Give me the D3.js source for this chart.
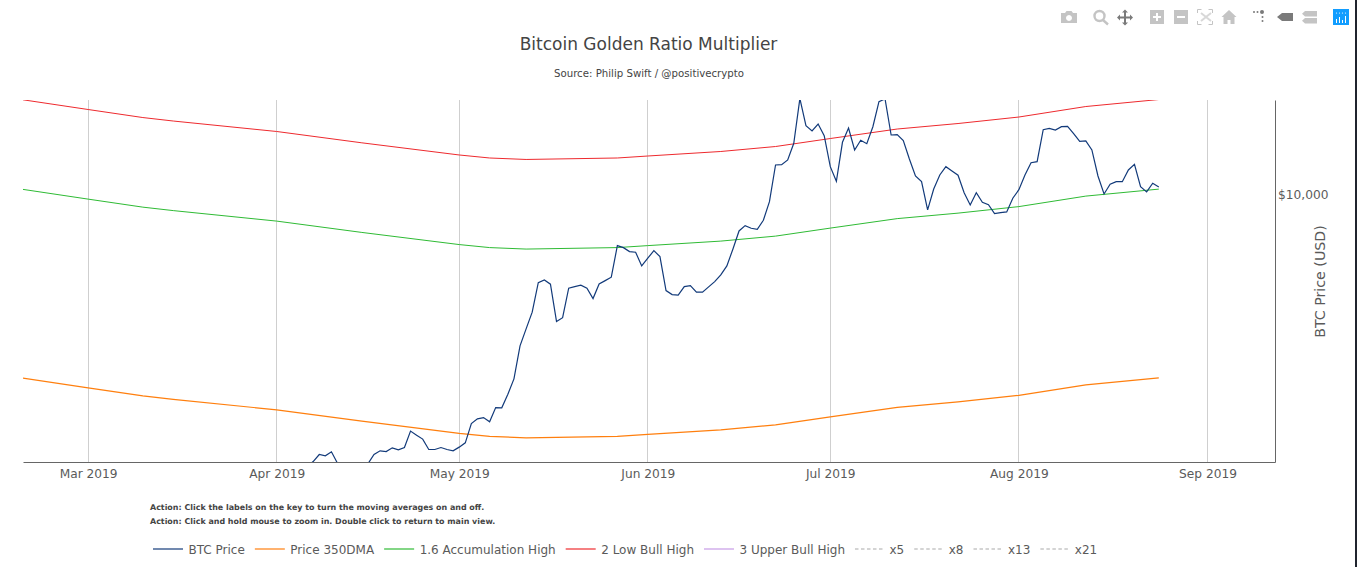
<!DOCTYPE html>
<html>
<head>
<meta charset="utf-8">
<script src="https://cdn.jsdelivr.net/npm/d3@7"></script>
<style>
html,body{margin:0;padding:0;background:#fff;overflow:hidden}
svg{display:block}
text{font-family:"DejaVu Sans",Verdana,sans-serif}
</style>
</head>
<body>
<svg id="chart" width="1357" height="567"></svg>
<script>
// ---- data ----
const titleText = "Bitcoin Golden Ratio Multiplier";
const subtitleText = "Source: Philip Swift / @positivecrypto";
const noteLines = [
  "Action: Click the labels on the key to turn the moving averages on and off.",
  "Action: Click and hold mouse to zoom in. Double click to return to main view."
];
const yAxisTitle = "BTC Price (USD)";
const xTickDates = ["2019-03-01","2019-04-01","2019-05-01","2019-06-01","2019-07-01","2019-08-01","2019-09-01"];
const yTickValues = [10000];

const btcStart = "2019-04-06"; // one value per day from this date; values below the axis are estimates
const btcPrice = [5060,5123,5213,5196,5249,5100,5085,5075,5090,5040,5095,5213,5261,5252,5301,5275,5305,5526,5471,5417,5279,5279,5305,5279,5261,
  5310,5367,5631,5698,5716,5655,5860,5856,6059,6294,6833,7128,7431,7999,8053,7968,7259,7331,7888,7920,7947,7888,7687,7973,8039,8107,8771,8727,8641,8628,8338,
  8500,8662,8534,7841,7764,7752,7920,7939,7810,7810,7914,8019,8154,8338,8699,9097,9218,9159,9136,9343,9786,10722,10730,10856,11317,12650,11824,11668,11874,11533,
  10677,10295,11345,11756,11130,11402,11305,11794,12551,12640,11553,11562,11396,10883,10432,10285,9586,10100,10458,10677,10563,10451,10007,9706,10007,9771,9713,9498,9522,9538,9869,
  10082,10458,10783,10810,11707,11747,11698,11794,11806,11590,11373,11382,11130,10432,9975,10219,10285,10285,10589,10740,10158,10025,10244,10150];

const maDates = ["2019-02-18","2019-03-01","2019-03-10","2019-03-15","2019-04-01","2019-04-15","2019-05-01","2019-05-06","2019-05-12","2019-05-27","2019-06-01","2019-06-13","2019-06-22","2019-07-01","2019-07-12","2019-07-22","2019-08-01","2019-08-12","2019-08-24"];
const price350DMA = [6310,6155,6033,5981,5827,5665,5496,5455,5435,5455,5482,5544,5613,5726,5863,5944,6041,6201,6310];
const accumulationHigh = [10096,9848,9653,9570,9323,9064,8794,8728,8696,8728,8771,8870,8981,9162,9381,9510,9666,9922,10096];
const lowBullHigh = [12620,12310,12066,11962,11654,11330,10992,10910,10870,10910,10964,11088,11226,11452,11726,11888,12082,12402,12620];

const legendNames = ["BTC Price","Price 350DMA","1.6 Accumulation High","2 Low Bull High","3 Upper Bull High","x5","x8","x13","x21"];

// ---- styles and layout ----
const legendColors = ["#123a7a","#ff7f0e","#2fbb35","#ee2a2e","#c79be6","#aaa","#aaa","#aaa","#aaa"];
const legendDashed = [false,false,false,false,false,true,true,true,true];
const M = {left:23,right:1275,top:100,bottom:462};
const parse = d3.utcParse("%Y-%m-%d");
const svg = d3.select("#chart");

const x = d3.scaleUtc()
  .domain([parse("2019-02-18").getTime()+0.3*864e5, parse("2019-09-12").getTime()+0.1*864e5])
  .range([M.left,M.right]);
const y = d3.scaleLog().domain([5117,12605]).range([M.bottom,M.top]);

svg.append("defs").append("clipPath").attr("id","plot").append("rect")
  .attr("x",M.left).attr("y",M.top).attr("width",M.right-M.left).attr("height",M.bottom-M.top);

// grid
const xTicks = xTickDates.map(parse);
svg.append("g").attr("shape-rendering","crispEdges").selectAll("line").data(xTicks).join("line")
  .attr("x1",d=>x(d)).attr("x2",d=>x(d)).attr("y1",M.top).attr("y2",M.bottom)
  .attr("stroke","#cfcfcf").attr("stroke-width",1);

// lines
const line = d3.line().x(d=>x(d[0])).y(d=>y(d[1]));
const btcT0 = parse(btcStart).getTime();
const btcPts = btcPrice.map((v,i)=>[new Date(btcT0+i*864e5),v]);
const maPts = arr => arr.map((v,i)=>[parse(maDates[i]),v]);
const plot = svg.append("g").attr("clip-path","url(#plot)").attr("fill","none");
plot.append("path").attr("d",line(maPts(price350DMA))).attr("stroke",legendColors[1]).attr("stroke-width",1.2);
plot.append("path").attr("d",line(maPts(accumulationHigh))).attr("stroke",legendColors[2]).attr("stroke-width",1);
plot.append("path").attr("d",line(maPts(lowBullHigh))).attr("stroke",legendColors[3]).attr("stroke-width",1);
plot.append("path").attr("d",line(btcPts)).attr("stroke",legendColors[0]).attr("stroke-width",1.2);

// axes
const gx = svg.append("g").attr("transform",`translate(0,${M.bottom})`)
  .call(d3.axisBottom(x).tickValues(xTicks).tickSize(0).tickPadding(5).tickFormat(d3.utcFormat("%b %Y")));
gx.select(".domain").attr("stroke","#666").attr("stroke-width",1);
gx.selectAll("text").attr("font-size",12.2).attr("fill","#5a5a5a").attr("font-family",'"DejaVu Sans"').attr("dy","0.87em");
const gy = svg.append("g").attr("transform",`translate(${M.right},0)`)
  .call(d3.axisRight(y).tickValues(yTickValues).tickSize(0).tickPadding(3).tickFormat(d3.format("$,")));
gy.select(".domain").attr("stroke","#666").attr("stroke-width",1);
gy.selectAll("text").attr("font-size",12.2).attr("fill","#5a5a5a").attr("font-family",'"DejaVu Sans"').attr("dy","0.42em");

svg.append("text").attr("transform","translate(1325,281.5) rotate(-90)").attr("text-anchor","middle")
  .attr("font-size",14.2).attr("fill","#5a5a5a").text(yAxisTitle);

// titles
svg.append("text").attr("x",648.5).attr("y",50).attr("text-anchor","middle").attr("font-size",17).attr("fill","#444").text(titleText);
svg.append("text").attr("x",649).attr("y",77).attr("text-anchor","middle").attr("font-size",10.2).attr("fill","#444").text(subtitleText);

// notes
svg.append("g").selectAll("text").data(noteLines).join("text")
  .attr("x",150).attr("y",(d,i)=>510+i*14).attr("font-size",7.95).attr("font-weight","bold").attr("fill","#444").text(d=>d);

// legend
const lg = svg.append("g");
let lx = 153;
legendNames.forEach((name,i)=>{
  const w = legendDashed[i]?29:30;
  lg.append("line").attr("x1",lx).attr("x2",lx+w).attr("y1",549).attr("y2",549)
    .attr("stroke",legendColors[i]).attr("stroke-width",1.2).attr("stroke-dasharray",legendDashed[i]?"3.5 2.5":null);
  const t = lg.append("text").attr("x",lx+w+5.5).attr("y",554).attr("font-size",12).attr("fill","#5a5a5a").text(name);
  lx += w+5.5+t.node().getComputedTextLength()+10;
});

// toolbar
const mb = svg.append("g");
const L="#c4c4c4", D="#7a7a7a";
// camera
mb.append("path").attr("fill",L).attr("fill-rule","evenodd").attr("d","M1061 13h4l1.5-2h5l1.5 2h4v10h-16z M1069 15a3 3 0 1 0 .01 0z");
// zoom
mb.append("circle").attr("cx",1099.5).attr("cy",16).attr("r",5).attr("fill","none").attr("stroke",L).attr("stroke-width",2.4);
mb.append("line").attr("x1",1103).attr("y1",20).attr("x2",1108).attr("y2",24.5).attr("stroke",L).attr("stroke-width",2.4);
// pan
mb.append("path").attr("fill",D).attr("d","M1125 9.5l3 3h-2v4h4v-2l3 3-3 3v-2h-4v4h2l-3 3-3-3h2v-4h-4v2l-3-3 3-3v2h4v-4h-2z");
// plus / minus
mb.append("path").attr("fill",L).attr("fill-rule","evenodd").attr("d","M1150 10h14v14h-14z M1156 13v3h-3v2h3v3h2v-3h3v-2h-3v-3z");
mb.append("path").attr("fill",L).attr("fill-rule","evenodd").attr("d","M1174 10h14v14h-14z M1177 16v2h8v-2z");
// autoscale
mb.append("path").attr("fill","none").attr("stroke",L).attr("d","M1197.5 13v-3.5h4 M1208.5 9.5h4v3.5 M1212.5 21v3.5h-4 M1201.5 24.5h-4v-3.5");
mb.append("path").attr("fill","none").attr("stroke","#d8d8d8").attr("stroke-width",2).attr("d","M1201 13l10 8 M1211 13l-10 8");
// home
mb.append("path").attr("fill",L).attr("d","M1229 10l7.5 7h-2v7h-4v-4h-3v4h-4v-7h-2z");
// spikes
mb.append("g").attr("fill",D).selectAll("circle").data([[1254,12,1],[1257.5,12,1],[1262,12,2],[1262.5,17,1],[1262.5,21,1]]).join("circle")
  .attr("cx",d=>d[0]).attr("cy",d=>d[1]).attr("r",d=>d[2]);
// hover closest
mb.append("path").attr("fill",D).attr("d","M1277 17l5-4h11v8h-11z");
// hover compare
mb.append("path").attr("fill",L).attr("d","M1305 11h12v5.5h-12l-3-2.7z M1305 18h12v5.5h-12l-3-2.7z");
// logo
mb.append("rect").attr("x",1333).attr("y",9).attr("width",16).attr("height",16).attr("fill","#119dff");
mb.append("g").attr("stroke","#fff").attr("stroke-width",1).selectAll("line").data([[1336,19],[1339,17],[1342,20],[1345,16]]).join("line")
  .attr("x1",d=>d[0]+.5).attr("x2",d=>d[0]+.5).attr("y1",d=>d[1]).attr("y2",23);
mb.append("g").attr("fill","#fff").selectAll("circle").data(d3.range(4)).join("circle")
  .attr("cx",d=>1336.5+d*3).attr("cy",13).attr("r",.6);
// dark sliver on the right edge of the screenshot
svg.append("rect").attr("x",1355).attr("y",0).attr("width",2).attr("height",567).attr("fill","#20242e");
</script>
</body>
</html>
